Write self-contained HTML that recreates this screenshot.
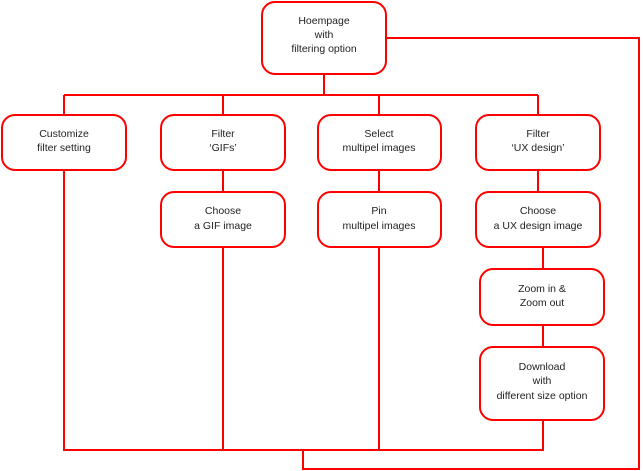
<!DOCTYPE html>
<html><head><style>body{margin:0;background:#fff}svg{display:block}text{font-family:"Liberation Sans",sans-serif;font-size:10.5px;fill:#222;text-anchor:middle}</style></head><body>
<svg width="643" height="471" viewBox="0 0 643 471">
<g stroke="#f00" stroke-width="2" fill="none">
<path d="M386 38H639V469H303V450"/>
<path d="M324 74V95M64 95H538M64 95V115M223 95V115M379 95V115M538 95V115"/>
<path d="M64 170V450H543V420M223 170V192M223 247V450M379 170V192M379 247V450M538 170V192M543 247V269M543 325V347"/>
<rect x="262" y="2" width="124" height="72" rx="13" fill="#fff"/>
<rect x="2" y="115" width="124" height="55" rx="13" fill="#fff"/>
<rect x="161" y="115" width="124" height="55" rx="13" fill="#fff"/>
<rect x="318" y="115" width="123" height="55" rx="13" fill="#fff"/>
<rect x="476" y="115" width="124" height="55" rx="13" fill="#fff"/>
<rect x="161" y="192" width="124" height="55" rx="13" fill="#fff"/>
<rect x="318" y="192" width="123" height="55" rx="13" fill="#fff"/>
<rect x="476" y="192" width="124" height="55" rx="13" fill="#fff"/>
<rect x="480" y="269" width="124" height="56" rx="13" fill="#fff"/>
<rect x="480" y="347" width="124" height="73" rx="13" fill="#fff"/>
</g>
<text x="324" y="24">Hoempage</text><text x="324" y="38">with</text><text x="324" y="52">filtering option</text>
<text x="64" y="137">Customize</text><text x="64" y="151">filter setting</text>
<text x="223" y="137">Filter</text><text x="223" y="151">‘GIFs’</text>
<text x="379" y="137">Select</text><text x="379" y="151">multipel images</text>
<text x="538" y="137">Filter</text><text x="538" y="151">‘UX design’</text>
<text x="223" y="214">Choose</text><text x="223" y="229">a GIF image</text>
<text x="379" y="214">Pin</text><text x="379" y="229">multipel images</text>
<text x="538" y="214">Choose</text><text x="538" y="229">a UX design image</text>
<text x="542" y="292">Zoom in &amp;</text><text x="542" y="306">Zoom out</text>
<text x="542" y="370">Download</text><text x="542" y="384">with</text><text x="542" y="399">different size option</text>
</svg>
</body></html>
